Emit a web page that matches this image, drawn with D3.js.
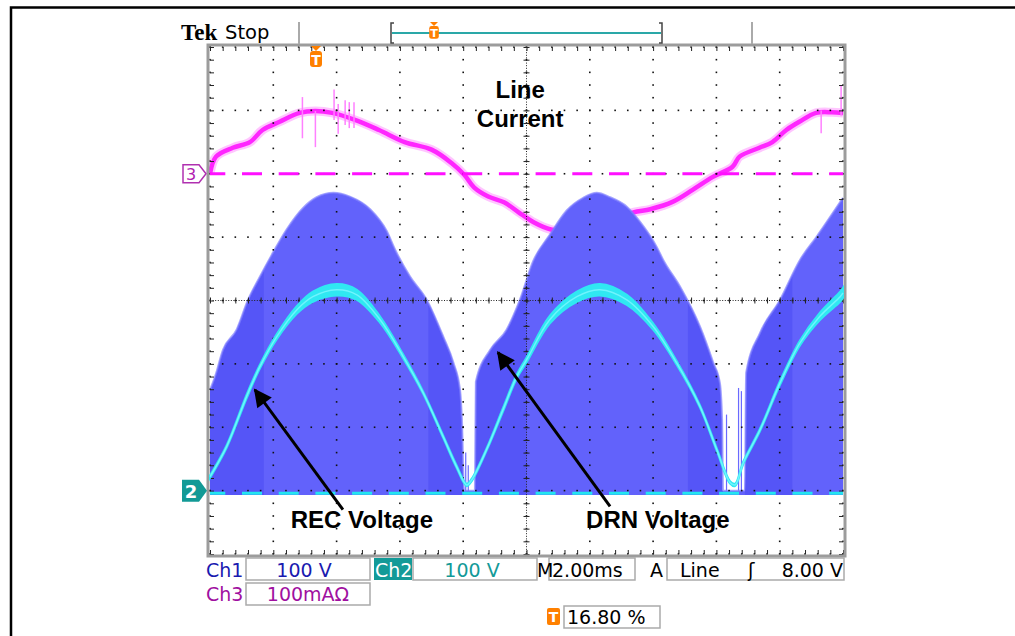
<!DOCTYPE html>
<html><head><meta charset="utf-8">
<script src="https://cdn.jsdelivr.net/npm/d3@7"></script>
<style>body{margin:0;background:#fff}svg{display:block}</style>
</head><body>
<svg id="c" width="1015" height="636"></svg>
<script>
// ---------------- DATA ----------------
// time in ms (10 div x 2.00 ms), ch1/ch2 in volts (100 V/div), ch3 in mA (100 mA/div)
const recTime  = [0.00,0.53,1.16,1.58,2.11,2.74,3.25,4.00,4.64,5.37,6.10,6.73,7.36,7.79,8.11,8.27,8.74,9.26,9.69,10.01,10.74,11.59,12.32,13.17,14.00,14.74,15.48,16.01,16.43,16.59,16.85,17.38,18.01,18.64,19.27,19.91,20.00];
const recVolt  = [22,70,149,196,243,285,306,317,309,270,212,155,86,38,9,17,65,128,180,207,270,306,317,301,259,202,133,65,13,9,44,96,170,233,275,306,312];
const recSpread= [2,2,3,3,4,6,8,9,8,5,3,2,2,2,2,2,2,3,3,4,6,8,9,8,5,3,2,2,2,2,2,2,3,4,6,8,8];

const drnTime = [0.00,0.16,0.41,0.84,1.20,1.58,1.95,2.42,2.94,3.37,3.90,4.42,5.06,5.58,5.85,6.32,6.85,7.37,7.69,7.90,7.96,8.03,8.37,8.40,8.85,9.37,9.79,10.21,10.74,11.27,11.79,12.22,12.64,13.17,13.59,14.11,14.32,14.85,15.48,15.90,16.11,16.18,16.21,16.90,16.94,17.38,18.01,18.64,19.17,20.00];
const drnVolt = [159,180,222,254,301,338,372,412,446,463,470,464,444,410,380,338,301,243,202,159,112,0,0,172,222,254,301,362,404,442,462,470,463,448,424,385,364,322,259,202,170,112,0,0,186,249,301,364,401,462];
const drnSpikeTime = [8.08,8.16,16.32,16.70,16.79];
const drnSpikeVolt = [60,40,120,162,157];
// time bands where the switching waveform is densest (darker blue)
const drnDenseStart = [0.00, 6.90, 8.37, 15.10, 16.90];
const drnDenseEnd   = [1.70, 8.03, 10.00, 16.21, 18.40];

const curTime = [0.00,0.19,0.72,1.26,1.66,2.20,2.83,3.33,3.86,4.58,5.34,6.15,7.00,7.63,8.04,8.35,8.79,9.29,9.73,10.24,10.77,11.24,11.80,12.34,12.90,13.38,13.91,14.63,15.26,15.89,16.51,16.73,17.36,17.77,18.21,18.62,19.15,19.65,20.00];
const curMilliamp = [0,27,41,50,69,82,96,99,96,85,69,50,38,17,-2,-22,-36,-45,-60,-77,-88,-90,-86,-80,-72,-61,-56,-44,-25,-5,11,27,41,50,69,82,96,97,96];
const curSpikeTime = [2.92,3.33,3.92,4.05,4.27,4.40,4.55,19.31,19.94];
const curSpikeHigh = [121,99,133,110,116,113,113,100,140];
const curSpikeLow  = [56,42,85,63,77,72,72,64,92];

const xDivs = d3.range(0, 20.001, 2);       // major time lines (ms)
const yDivs = d3.range(-4, 4.001, 1);       // major vertical divisions
const xMinor = d3.range(0, 20.001, 0.4);
const yMinor = d3.range(-4, 4.001, 0.2);

const labels = [
  {text:"Line", t:9.8, v:620},
  {text:"Current", t:9.8, v:574},
  {text:"REC Voltage", t:4.80, v:-59},
  {text:"DRN Voltage", t:14.15, v:-59}
];
const arrows = [
  {t0:4.20, v0:-30, t1:1.42, v1:159},
  {t0:12.64, v0:-25, t1:9.10, v1:218}
];
const ch2Offset = -3, ch3Offset = 2; // divisions

// ---------------- SCALES ----------------
const svg = d3.select("#c");
const X0=210, X1=843, Y0=47, Y1=554;
const x = d3.scaleLinear([0,20],[X0,X1]);
const div = d3.scaleLinear([-4,4],[Y1,Y0]);
const yV = v => div(v/100 + ch2Offset);
const yI = i => div(i/100 + ch3Offset);

// outer frame
svg.append("path").attr("d","M11,636 L11,7.5 L1015,7.5").attr("fill","none").attr("stroke","#000").attr("stroke-width",2.5);

// ---------------- TRACE: current (ch3) (under ch1) ----------------
const cur = curTime.map((t,i)=>({t, v:curMilliamp[i]}));
const curLine = d3.line().x(d=>x(d.t)).y(d=>yI(d.v)).curve(d3.curveCatmullRom.alpha(0.5));
svg.append("path").datum(cur).attr("d",curLine).attr("fill","none").attr("stroke","#ff8cff").attr("stroke-width",9).attr("opacity",0.5);
svg.append("path").datum(cur).attr("d",curLine).attr("fill","none").attr("stroke","#ff26ff").attr("stroke-width",4.5);
svg.selectAll(".csp").data(curSpikeTime).join("line")
  .attr("x1",d=>x(d)).attr("x2",d=>x(d)).attr("y1",(d,i)=>yI(curSpikeLow[i])).attr("y2",(d,i)=>yI(curSpikeHigh[i]))
  .attr("stroke","#ff80ff").attr("stroke-width",1.5);

// ---------------- TRACE: DRN (ch1) ----------------
const drn = drnTime.map((t,i)=>({t, v:drnVolt[i]}));
const drnArea = d3.area().x(d=>x(d.t)).y0(yV(-7)).y1(d=>yV(d.v)).curve(d3.curveMonotoneX);
svg.append("clipPath").attr("id","drnclip").append("path").datum(drn).attr("d",drnArea);
svg.append("path").datum(drn).attr("d", drnArea).attr("fill","#6262fb");
svg.append("g").attr("clip-path","url(#drnclip)").selectAll("rect").data(drnDenseStart).join("rect")
  .attr("x",d=>x(d)).attr("width",(d,i)=>x(drnDenseEnd[i])-x(d)).attr("y",Y0).attr("height",Y1-Y0)
  .attr("fill","#2a2ae6").attr("opacity",0.22);
svg.append("path").datum(drn)
  .attr("d", d3.line().x(d=>x(d.t)).y(d=>yV(d.v)).curve(d3.curveMonotoneX))
  .attr("fill","none").attr("stroke","#8080ff").attr("stroke-width",2).attr("opacity",0.7);
svg.selectAll(".dsp").data(drnSpikeTime).join("line")
  .attr("x1",d=>x(d)).attr("x2",d=>x(d)).attr("y1",yV(0)).attr("y2",(d,i)=>yV(drnSpikeVolt[i]))
  .attr("stroke","#6a6aff").attr("stroke-width",1.2);

// ---------------- GRATICULE ----------------
const g = svg.append("g");
xDivs.forEach(t=>{
  g.selectAll(null).data(yMinor).join("rect")
   .attr("x",x(t)-0.8).attr("y",d=>div(d)-0.8).attr("width",1.6).attr("height",1.6).attr("fill","#111");
});
yDivs.forEach(v=>{
  g.selectAll(null).data(xMinor).join("rect")
   .attr("x",d=>x(d)-0.8).attr("y",div(v)-0.8).attr("width",1.6).attr("height",1.6).attr("fill","#111");
});
g.append("line").attr("x1",X0).attr("x2",X1).attr("y1",div(0)).attr("y2",div(0))
 .attr("stroke","#222").attr("stroke-width",1).attr("stroke-dasharray","1,1.6");
g.append("line").attr("x1",x(10)).attr("x2",x(10)).attr("y1",Y0).attr("y2",Y1)
 .attr("stroke","#222").attr("stroke-width",1).attr("stroke-dasharray","1,1.6");
const tickX = d3.range(0,20.001,0.4);
const tickY = d3.range(-4,4.001,0.2);
g.append("g").attr("transform",`translate(0,${div(0)})`).call(d3.axisBottom(x).tickValues(tickX).tickSize(3).tickFormat(""));
g.append("g").attr("transform",`translate(0,${div(0)})`).call(d3.axisTop(x).tickValues(tickX).tickSize(3).tickFormat(""));
g.append("g").attr("transform",`translate(${x(10)},0)`).call(d3.axisLeft(div).tickValues(tickY).tickSize(3).tickFormat(""));
g.append("g").attr("transform",`translate(${x(10)},0)`).call(d3.axisRight(div).tickValues(tickY).tickSize(3).tickFormat(""));
g.append("g").attr("transform",`translate(0,${Y0})`).call(d3.axisBottom(x).tickValues(tickX).tickSize(4).tickFormat(""));
g.append("g").attr("transform",`translate(0,${Y1})`).call(d3.axisTop(x).tickValues(tickX).tickSize(4).tickFormat(""));
g.append("g").attr("transform",`translate(${X0},0)`).call(d3.axisRight(div).tickValues(tickY).tickSize(4).tickFormat(""));
g.append("g").attr("transform",`translate(${X1},0)`).call(d3.axisLeft(div).tickValues(tickY).tickSize(4).tickFormat(""));
g.selectAll(".domain").remove();
g.selectAll(".tick line").attr("stroke","#222").attr("stroke-width",1);
svg.append("rect").attr("x",X0-2).attr("y",Y0-2).attr("width",X1-X0+4).attr("height",Y1-Y0+4)
  .attr("fill","none").attr("stroke","#9c9c9c").attr("stroke-width",3);

// ch3 reference
svg.append("line").attr("x1",X0).attr("x2",X1).attr("y1",yI(0)).attr("y2",yI(0))
  .attr("stroke","#ff10ff").attr("stroke-width",3).attr("stroke-dasharray","20,16.7").attr("stroke-dashoffset",-32);

// ---------------- TRACE: REC (ch2) ----------------
const rec = recTime.map((t,i)=>({t, v:recVolt[i], s:recSpread[i]}));
const recCurve = d3.curveCatmullRom.alpha(0.5);
svg.append("path").datum(rec)
  .attr("d", d3.area().x(d=>x(d.t)).y0(d=>yV(d.v - d.s)).y1(d=>yV(d.v + d.s)).curve(recCurve))
  .attr("fill","#30e8f2").attr("stroke","#30e8f2").attr("stroke-width",2);
svg.append("path").datum(rec)
  .attr("d", d3.line().x(d=>x(d.t)).y(d=>yV(d.v)).curve(recCurve))
  .attr("fill","none").attr("stroke","#7ff6ff").attr("stroke-width",1.5).attr("opacity",0.8);
svg.append("line").attr("x1",X0).attr("x2",X1).attr("y1",yV(-4)).attr("y2",yV(-4))
  .attr("stroke","#22e5f0").attr("stroke-width",3).attr("stroke-dasharray","20,16.7").attr("stroke-dashoffset",-32);

// ---------------- ANNOTATIONS ----------------
svg.append("defs").append("marker").attr("id","ah").attr("viewBox","0 0 10 10")
  .attr("refX",9).attr("refY",5).attr("markerWidth",7).attr("markerHeight",6).attr("orient","auto")
  .attr("markerUnits","strokeWidth")
  .append("path").attr("d","M0,0 L10,5 L0,10 z").attr("fill","#000");
svg.selectAll(".arr").data(arrows).join("line")
  .attr("x1",d=>x(d.t0)).attr("y1",d=>yV(d.v0)).attr("x2",d=>x(d.t1)).attr("y2",d=>yV(d.v1))
  .attr("stroke","#000").attr("stroke-width",3).attr("marker-end","url(#ah)");
svg.selectAll(".lbl").data(labels).join("text")
  .attr("x",d=>x(d.t)).attr("y",d=>yV(d.v)).attr("text-anchor","middle")
  .attr("font-family","Liberation Sans, Arial, sans-serif").attr("font-weight","bold").attr("font-size",24)
  .attr("fill","#000").text(d=>d.text);

// ---------------- SCOPE CHROME ----------------
const mono = "DejaVu Sans, sans-serif";
svg.append("text").attr("x",181).attr("y",40).attr("font-family","Liberation Serif, serif").attr("font-weight","bold")
  .attr("font-size",23).text("Tek");
svg.append("text").attr("x",225).attr("y",39).attr("font-family",mono).attr("font-size",19.5).text("Stop");
svg.append("line").attr("x1",299).attr("x2",299).attr("y1",22).attr("y2",44).attr("stroke","#aaa").attr("stroke-width",2);
svg.append("line").attr("x1",752).attr("x2",752).attr("y1",22).attr("y2",44).attr("stroke","#aaa").attr("stroke-width",2);
svg.append("path").attr("d","M394,23 L391,23 L391,43 L394,43").attr("fill","none").attr("stroke","#444").attr("stroke-width",1.5);
svg.append("path").attr("d","M659,23 L662,23 L662,43 L659,43").attr("fill","none").attr("stroke","#444").attr("stroke-width",1.5);
svg.append("line").attr("x1",392).attr("x2",661).attr("y1",33).attr("y2",33).attr("stroke","#2aa8a8").attr("stroke-width",2);
function trig(cx, ty, s){
  const gg = svg.append("g");
  gg.append("path").attr("d",`M${cx-5*s},${ty} L${cx+5*s},${ty} L${cx},${ty+5*s} z`).attr("fill","#ff8000");
  gg.append("rect").attr("x",cx-6*s).attr("y",ty+5*s).attr("width",12*s).attr("height",16*s).attr("rx",3*s).attr("fill","#ff8000");
  gg.append("text").attr("x",cx).attr("y",ty+18.5*s).attr("text-anchor","middle").attr("font-family",mono)
    .attr("font-weight","bold").attr("font-size",14*s).attr("fill","#fff").text("T");
}
trig(316, 46, 1);
trig(434, 22, 0.8);
svg.append("path").attr("d",`M183,${yI(0)-9} L199,${yI(0)-9} L206,${yI(0)} L199,${yI(0)+9} L183,${yI(0)+9} z`)
  .attr("fill","#fff").attr("stroke","#b030b0").attr("stroke-width",1.5);
svg.append("text").attr("x",191).attr("y",yI(0)+6).attr("text-anchor","middle").attr("font-family",mono).attr("font-size",16).attr("fill","#b020b0").text("3");
svg.append("path").attr("d",`M182,${yV(0)-11} L199,${yV(0)-11} L207,${yV(0)} L199,${yV(0)+11} L182,${yV(0)+11} z`)
  .attr("fill","#129a96");
svg.append("text").attr("x",191).attr("y",yV(0)+7).attr("text-anchor","middle").attr("font-family",mono).attr("font-weight","bold").attr("font-size",18).attr("fill","#fff").text("2");

function box(x0,y0,w,h){ svg.append("rect").attr("x",x0).attr("y",y0).attr("width",w).attr("height",h).attr("fill","#fff").attr("stroke","#aaa").attr("stroke-width",1.5); }
function txt(s,x0,y0,col,anchor){ svg.append("text").attr("x",x0).attr("y",y0).attr("font-family",mono).attr("font-size",19).attr("fill",col).attr("text-anchor",anchor||"start").text(s); }
box(246,558,124,22); box(413,558,124,22); box(549,558,86,22); box(667,558,177,22);
box(246,583,124,22); box(564,606,96,22);
svg.append("rect").attr("x",374).attr("y",558).attr("width",38).attr("height",22).attr("fill","#139a98");
txt("Ch1",206,577,"#1a1ab0"); txt("100 V",304,577,"#1a1ab0","middle");
txt("Ch2",375,577,"#fff"); txt("100 V",472,577,"#139a98","middle");
txt("M",537,577,"#000"); txt("2.00ms",552,577,"#000");
txt("A",650,577,"#000"); txt("Line",680,577,"#000"); txt("ʃ",748,577,"#000"); txt("8.00 V",843,577,"#000","end");
txt("Ch3",206,601,"#a010a0"); txt("100mA\u03A9",308,601,"#a010a0","middle");
svg.append("rect").attr("x",547).attr("y",608).attr("width",13).attr("height",17).attr("rx",2).attr("fill","#ff8000");
svg.append("text").attr("x",553.5).attr("y",622).attr("text-anchor","middle").attr("font-family",mono).attr("font-weight","bold").attr("font-size",14).attr("fill","#fff").text("T");
txt("16.80 %",567,624,"#000");
</script>
</body></html>
